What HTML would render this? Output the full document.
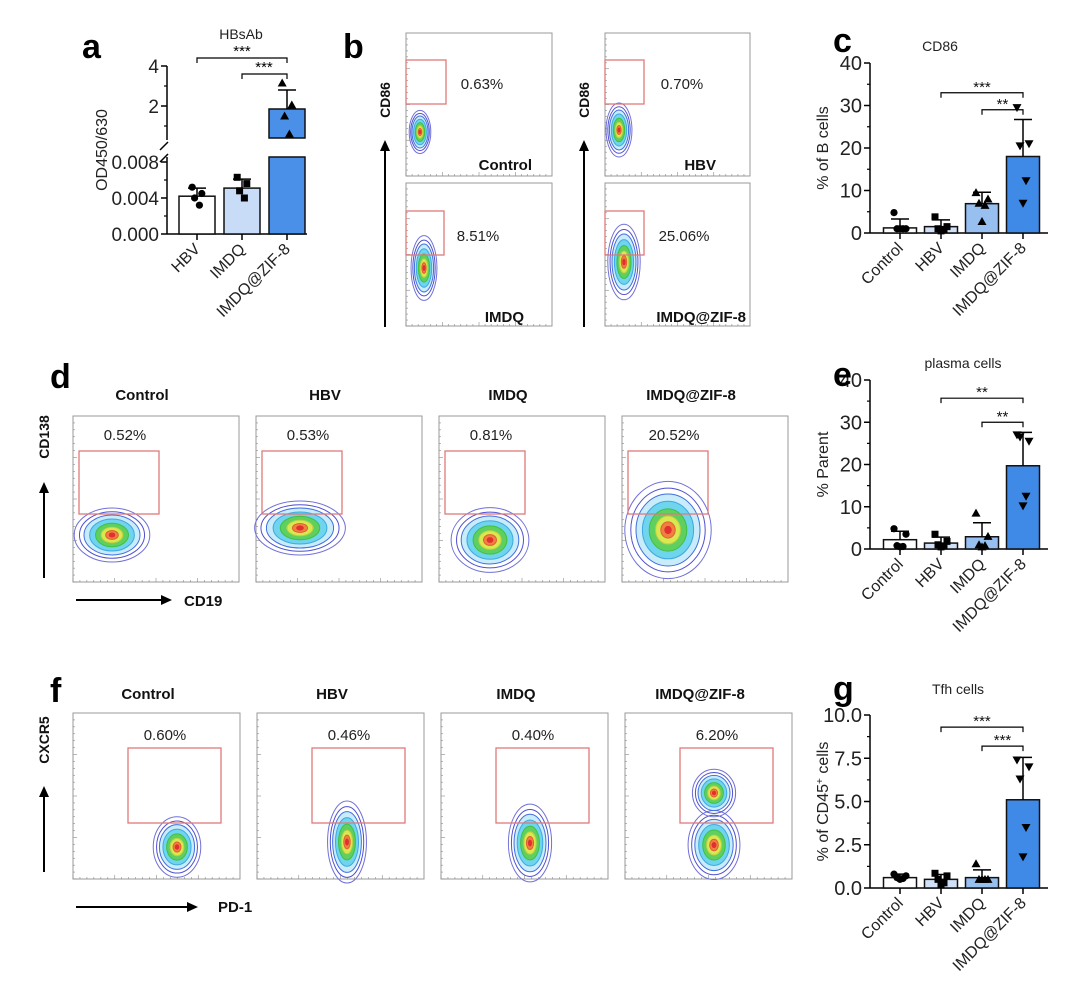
<!DOCTYPE html>
<html><head><meta charset="utf-8"><style>
body{margin:0;background:#fff;}
svg{display:block;font-family:"Liberation Sans",Arial,sans-serif;}
</style></head><body>
<svg id="fig" width="1080" height="1004" viewBox="0 0 1080 1004"></svg>
<script>
// ---------- Data ----------
const catsA = ["HBV","IMDQ","IMDQ@ZIF-8"];
const meansA = [0.0042, 0.0051, 1.85];
const errsA = [0.0051, 0.0061, 2.8];
const ptsA = [[0.0052,0.0045,0.0040,0.0032],[0.0063,0.0056,0.0048,0.0040],[3.15,2.05,1.5,0.6]];
const lowTicksA = [0, 0.004, 0.008];
const lowTickLabelsA = ["0.000","0.004","0.008"];
const upTicksA = [2, 4];
const upTickLabelsA = ["2","4"];

const cats = ["Control","HBV","IMDQ","IMDQ@ZIF-8"];
const meansC = [1.2, 1.5, 6.9, 18];
const errsC = [3.3, 3.1, 9.6, 26.7];
const ptsC = [[4.8,1,1,1,1],[3.8,1.5,1,0.8,0.5],[9.5,8,7,6.5,2.7],[29.5,21,20.5,12.3,7]];
const ticksC = [0,10,20,30,40];
const tickLabelsC = ["0","10","20","30","40"];

const meansE = [2.2, 1.4, 2.9, 19.7];
const errsE = [4.2, 2.8, 6.2, 27.6];
const ptsE = [[4.8,3.5,0.8,0.6,0.5],[3.5,1.8,1,0.7,0.5],[8.5,3,1,0.8,0.5],[27,25.5,26.5,12.5,10.2]];
const ticksE = [0,10,20,30,40];
const tickLabelsE = ["0","10","20","30","40"];

const meansG = [0.6, 0.5, 0.6, 5.1];
const errsG = [0.8, 0.78, 1.05, 7.55];
const ptsG = [[0.8,0.7,0.6,0.55,0.5],[0.85,0.7,0.5,0.3,0.2],[1.4,0.5,0.5,0.5,0.5],[7.4,7.0,6.3,3.5,1.8]];
const ticksG = [0,2.5,5,7.5,10];
const tickLabelsG = ["0.0","2.5","5.0","7.5","10.0"];

const bracketsC = [{from:1,to:3,v:33,label:"***"},{from:2,to:3,v:29,label:"**"}];
const bracketsE = [{from:1,to:3,v:35.7,label:"**"},{from:2,to:3,v:30,label:"**"}];
const bracketsG = [{from:1,to:3,v:9.3,label:"***"},{from:2,to:3,v:8.2,label:"***"}];

const NS="http://www.w3.org/2000/svg";
const svg=document.getElementById('fig');
function el(tag,attrs,parent,text){const e=document.createElementNS(NS,tag);for(const k in attrs)e.setAttribute(k,attrs[k]);if(text!==undefined)e.textContent=text;(parent||svg).appendChild(e);return e;}
function grp(name){const g=document.createElementNS(NS,'g');


svg.appendChild(g);return g;}

function marker(g,type,x,y){
  let m;
  if(type==='circle') m=el('circle',{cx:x,cy:y,r:3.6,fill:'#000'},g);
  else if(type==='square') m=el('rect',{x:x-3.5,y:y-3.5,width:7,height:7,fill:'#000'},g);
  else if(type==='up') m=el('polygon',{points:`${x},${y-4.5} ${x-4.5},${y+3.5} ${x+4.5},${y+3.5}`,fill:'#000'},g);
  else m=el('polygon',{points:`${x},${y+4.5} ${x-4.5},${y-3.5} ${x+4.5},${y-3.5}`,fill:'#000'},g);
  
  
}
const jit=[-6,6,-3,3,0];

function barChart(o){
  const g=grp(o.name);
  const y=v=>o.y0-(v-o.vmin)/(o.vmax-o.vmin)*(o.y0-o.y1);
  el('line',{x1:o.ax,y1:o.y0,x2:o.ax,y2:o.y1,stroke:'#000','stroke-width':1.5},g);
  el('line',{x1:o.ax,y1:o.y0,x2:o.xEnd,y2:o.y0,stroke:'#000','stroke-width':1.5},g);
  o.ticks.forEach((t,i)=>{
    el('line',{x1:o.ax-6,y1:y(t),x2:o.ax,y2:y(t),stroke:'#000','stroke-width':1.5},g);
    if(i<o.ticks.length-1){const m=(t+o.ticks[i+1])/2;el('line',{x1:o.ax-3,y1:y(m),x2:o.ax,y2:y(m),stroke:'#000','stroke-width':1.2},g);}
    const tl=el('text',{x:o.ax-8,y:y(t)+7,'text-anchor':'end','font-size':20,fill:'#222'},g,o.tickLabels[i]);
    
    
  });
  const yl=el('text',{x:0,y:0,transform:`translate(${o.ax-42},${(o.y0+o.y1)/2}) rotate(-90)`,'text-anchor':'middle','font-size':16,fill:'#222'},g);
  yl.innerHTML=o.ylabel;
  
  
  const tt=el('text',{x:o.titleX,y:o.titleY,'text-anchor':'middle','font-size':14,fill:'#222'},g,o.title);
  
  
  o.means.forEach((m,i)=>{
    const cx=o.x0+i*o.step;
    const b=el('rect',{x:cx-o.bw/2,y:y(m),width:o.bw,height:o.y0-y(m),fill:o.colors[i],stroke:'#111','stroke-width':1.5},g);
    
    
    el('line',{x1:cx,y1:y(m),x2:cx,y2:y(o.errs[i]),stroke:'#000','stroke-width':1.5},g);
    el('line',{x1:cx-9,y1:y(o.errs[i]),x2:cx+9,y2:y(o.errs[i]),stroke:'#000','stroke-width':1.5},g);
    o.pts[i].forEach((p,j)=>marker(g,o.markers[i],cx+jit[j%5],y(p)));
    el('line',{x1:cx,y1:o.y0,x2:cx,y2:o.y0+6,stroke:'#000','stroke-width':1.5},g);
    const xl=el('text',{x:0,y:0,transform:`translate(${cx+4},${o.y0+16}) rotate(-45)`,'text-anchor':'end','font-size':16,fill:'#222'},g,o.cats[i]);
    
    
  });
  o.brackets.forEach(br=>{
    const xa=o.x0+br.from*o.step, xb=o.x0+br.to*o.step, yy=y(br.v);
    el('path',{d:`M${xa},${yy+5}V${yy}H${xb}V${yy+5}`,fill:'none',stroke:'#000','stroke-width':1.2},g);
    const s=el('text',{x:(xa+xb)/2,y:yy-1,'text-anchor':'middle','font-size':15,fill:'#111'},g,br.label);
    
    
  });
}

const colC=['#ffffff','#cfe0f7','#97bff0','#3f8ae6'];
const mk=['circle','square','up','down'];
barChart({name:'chart-c-cd86',cats,means:meansC,errs:errsC,pts:ptsC,ticks:ticksC,tickLabels:tickLabelsC,vmin:0,vmax:40,y0:233,y1:63,ax:870,xEnd:1048,x0:900,step:41,bw:33,colors:colC,markers:mk,brackets:bracketsC,ylabel:'% of B cells',title:'CD86',titleX:940,titleY:51});
barChart({name:'chart-e-plasma',cats,means:meansE,errs:errsE,pts:ptsE,ticks:ticksE,tickLabels:tickLabelsE,vmin:0,vmax:40,y0:549,y1:380,ax:870,xEnd:1048,x0:900,step:41,bw:33,colors:colC,markers:mk,brackets:bracketsE,ylabel:'% Parent',title:'plasma cells',titleX:963,titleY:368});
barChart({name:'chart-g-tfh',cats,means:meansG,errs:errsG,pts:ptsG,ticks:ticksG,tickLabels:tickLabelsG,vmin:0,vmax:10,y0:888,y1:715,ax:870,xEnd:1048,x0:900,step:41,bw:33,colors:colC,markers:mk,brackets:bracketsG,ylabel:'% of CD45<tspan baseline-shift="super" font-size="10">+</tspan>  cells',title:'Tfh cells',titleX:958,titleY:694});

// ---------- Panel a (broken axis) ----------
(function(){
  const g=grp('chart-a-hbsab');
  const ax=167, y0=234;
  const yl=v=>y0-v/0.008*72;
  const yu=v=>146-20*v;
  const yv=v=>v<0.01?yl(v):yu(v);
  el('line',{x1:ax,y1:y0,x2:ax,y2:157,stroke:'#000','stroke-width':1.5},g);
  el('line',{x1:ax,y1:140,x2:ax,y2:yu(4),stroke:'#000','stroke-width':1.5},g);
  el('line',{x1:ax-7,y1:150,x2:ax+1,y2:142,stroke:'#000','stroke-width':1.5},g);
  el('line',{x1:ax-7,y1:162,x2:ax+1,y2:154,stroke:'#000','stroke-width':1.5},g);
  el('line',{x1:ax,y1:y0,x2:307,y2:y0,stroke:'#000','stroke-width':1.5},g);
  lowTicksA.forEach((t,i)=>{
    el('line',{x1:ax-6,y1:yl(t),x2:ax,y2:yl(t),stroke:'#000','stroke-width':1.5},g);
    if(i<lowTicksA.length-1)el('line',{x1:ax-3,y1:yl(t+0.002),x2:ax,y2:yl(t+0.002),stroke:'#000','stroke-width':1.2},g);
    const s=el('text',{x:ax-8,y:yl(t)+7,'text-anchor':'end','font-size':19,fill:'#222'},g,lowTickLabelsA[i]);
    
    
  });
  upTicksA.forEach((t,i)=>{
    el('line',{x1:ax-6,y1:yu(t),x2:ax,y2:yu(t),stroke:'#000','stroke-width':1.5},g);
    el('line',{x1:ax-3,y1:yu(t-1),x2:ax,y2:yu(t-1),stroke:'#000','stroke-width':1.2},g);
    const s=el('text',{x:ax-8,y:yu(t)+7,'text-anchor':'end','font-size':19,fill:'#222'},g,upTickLabelsA[i]);
    
    
  });
  const t=el('text',{x:0,y:0,transform:'translate(107,150) rotate(-90)','text-anchor':'middle','font-size':16,fill:'#222'},g,'OD450/630');
  
  
  const tt=el('text',{x:241,y:39,'text-anchor':'middle','font-size':14,fill:'#222'},g,'HBsAb');
  
  
  const cols=['#ffffff','#c8dcf7','#4a90e8'], mks=['circle','square','up'];
  meansA.forEach((m,i)=>{
    const cx=197+i*45;
    let b;
    if(m<0.01){b=el('rect',{x:cx-18,y:yl(m),width:36,height:y0-yl(m),fill:cols[i],stroke:'#111','stroke-width':1.5},g);}
    else{
      el('rect',{x:cx-18,y:157,width:36,height:y0-157,fill:cols[i],stroke:'#111','stroke-width':1.5},g);
      b=el('rect',{x:cx-18,y:yu(m),width:36,height:138-yu(m),fill:cols[i],stroke:'#111','stroke-width':1.5},g);
    }
    
    
    el('line',{x1:cx,y1:yv(m),x2:cx,y2:yv(errsA[i]),stroke:'#000','stroke-width':1.5},g);
    el('line',{x1:cx-9,y1:yv(errsA[i]),x2:cx+9,y2:yv(errsA[i]),stroke:'#000','stroke-width':1.5},g);
    ptsA[i].forEach((p,j)=>marker(g,mks[i],cx+jit[j%5]*0.8,yv(p)));
    el('line',{x1:cx,y1:y0,x2:cx,y2:y0+6,stroke:'#000','stroke-width':1.5},g);
    const xl=el('text',{x:0,y:0,transform:`translate(${cx+4},${y0+16}) rotate(-45)`,'text-anchor':'end','font-size':16,fill:'#222'},g,catsA[i]);
    
    
  });
  el('path',{d:'M197,63V58H287V63',fill:'none',stroke:'#000','stroke-width':1.2},g);
  el('text',{x:242,y:56,'text-anchor':'middle','font-size':15},g,'***');
  el('path',{d:'M242,79V74H287V79',fill:'none',stroke:'#000','stroke-width':1.2},g);
  el('text',{x:264,y:72,'text-anchor':'middle','font-size':15},g,'***');
})();

// ---------- Flow plots ----------
function blob(g,cx,cy,rx,ry){
  const rings=[[1.08,'none','#7070d8'],[0.93,'none','#5050d0'],[0.8,'#c8ecfa','#4070e0'],[0.64,'#6fd4ee','#40a8e0'],[0.47,'#5fd060','#40c040'],[0.31,'#d8e850','#c0d040'],[0.18,'#f08040','#e06030'],[0.08,'#e03030','#e03030']];
  rings.forEach(r=>el('ellipse',{cx,cy,rx:rx*r[0],ry:ry*r[0],fill:r[1],stroke:r[2],'stroke-width':1},g));
}
function flowPlot(name,x,y,w,h,gate,pct,pctX,pctY,blobs,label,lx,ly){
  const g=grp(name);
  el('rect',{x,y,width:w,height:h,fill:'#fff',stroke:'#999','stroke-width':1},g);
  for(let i=0;i<24;i++){el('line',{x1:x,y1:y+h-i*h/24,x2:x+(i%6===0?4:2),y2:y+h-i*h/24,stroke:'#888','stroke-width':0.6},g);
    el('line',{x1:x+i*w/24,y1:y+h,x2:x+i*w/24,y2:y+h-(i%6===0?4:2),stroke:'#888','stroke-width':0.6},g);}
  blobs.forEach(b=>blob(g,b[0],b[1],b[2],b[3]));
  const gr=el('rect',{x:gate[0],y:gate[1],width:gate[2],height:gate[3],fill:'none',stroke:'#e07a7a','stroke-width':1.3},g);
  
  
  const p=el('text',{x:pctX,y:pctY,'text-anchor':'middle','font-size':15,fill:'#222'},g,pct);
  
  
  if(label){const l=el('text',{x:lx,y:ly,'text-anchor':'end','font-size':15,'font-weight':'bold',fill:'#111'},g,label);
    
    }
}
flowPlot('flow-b-control',406,33,146,143,[406,60,40,44],'0.63%',482,89,[[420,132,10,20]],'Control',532,170);
flowPlot('flow-b-imdq',406,183,146,143,[406,211,38,44],'8.51%',478,241,[[424,268,12,30]],'IMDQ',524,322);
flowPlot('flow-b-hbv',605,33,145,143,[605,60,39,44],'0.70%',682,89,[[619,130,12,25]],'HBV',716,170);
flowPlot('flow-b-zif',605,183,145,143,[605,211,39,44],'25.06%',684,241,[[624,262,15,35]],'IMDQ@ZIF-8',746,322);
const dTitles=['Control','HBV','IMDQ','IMDQ@ZIF-8'], dPct=['0.52%','0.53%','0.81%','20.52%'];
const dBlobs=[[[112,535,35,25]],[[300,528,42,25]],[[490,540,36,30]],[[668,530,40,45]]];
dTitles.forEach((t,i)=>{const x=73+i*183;
  flowPlot('flow-d-'+i,x,416,166,166,[x+6,451,80,63],dPct[i],x+52,440,dBlobs[i],null);
  const s=el('text',{x:x+69,y:400,'text-anchor':'middle','font-size':15,'font-weight':'bold',fill:'#111'},svg,t);
  
  });
const fPct=['0.60%','0.46%','0.40%','6.20%'];
const fBlobs=[[[177,847,22,28]],[[347,842,18,38]],[[530,843,20,36]],[[714,845,24,32],[714,793,20,22]]];
dTitles.forEach((t,i)=>{const x=73+i*184;
  flowPlot('flow-f-'+i,x,713,167,166,[x+55,748,93,75],fPct[i],x+92,740,fBlobs[i],null);
  const s=el('text',{x:x+75,y:699,'text-anchor':'middle','font-size':15,'font-weight':'bold',fill:'#111'},svg,t);
  
  });

function arrowV(x,y1,y2){el('line',{x1:x,y1,x2:x,y2:y2+8,stroke:'#000','stroke-width':2});el('polygon',{points:`${x},${y2} ${x-5},${y2+11} ${x+5},${y2+11}`,fill:'#000'});}
function arrowH(y,x1,x2){el('line',{x1,y1:y,x2:x2-8,y2:y,stroke:'#000','stroke-width':2});el('polygon',{points:`${x2},${y} ${x2-11},${y-5} ${x2-11},${y+5}`,fill:'#000'});}
function vlabel(x,y,t){const s=el('text',{x:0,y:0,transform:`translate(${x},${y}) rotate(-90)`,'text-anchor':'middle','font-size':14,'font-weight':'bold',fill:'#111'},svg,t);
  
  }
arrowV(385,327,140); vlabel(390,100,'CD86');
arrowV(584,327,140); vlabel(589,100,'CD86');
arrowV(44,578,482); vlabel(49,437,'CD138');
arrowH(600,76,172); el('text',{x:184,y:606,'font-size':15,'font-weight':'bold',fill:'#111'},svg,'CD19');
arrowV(44,872,786); vlabel(49,740,'CXCR5');
arrowH(907,76,198); el('text',{x:218,y:912,'font-size':15,'font-weight':'bold',fill:'#111'},svg,'PD-1');

[['a',82,58],['b',343,58],['c',833,52],['d',50,388],['e',833,386],['f',50,702],['g',833,700]].forEach(p=>{
  const s=el('text',{x:p[1],y:p[2],'font-size':34,'font-weight':'bold',fill:'#000'},svg,p[0]);
  
  });
</script>
</body></html>
